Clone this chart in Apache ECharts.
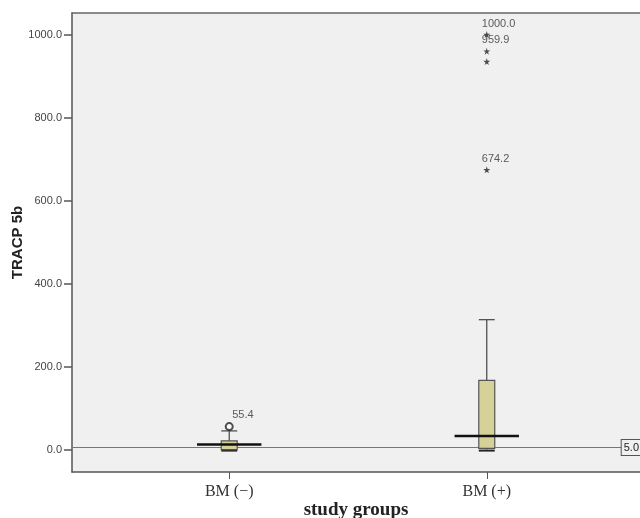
<!DOCTYPE html>
<html><head><meta charset="utf-8">
<script src="https://cdn.jsdelivr.net/npm/echarts@6/dist/echarts.min.js"></script>
<style>html,body{margin:0;padding:0;background:#fff}#c{width:640px;height:518px}</style>
</head><body><div id="c"></div>
<script>
// ---- data ----
var categories = ['BM (\u2212)', 'BM (+)'];
var positions = [1, 2];
var whiskerLow = [0, 0];
var q1 = [0, 3];
var median = [12, 33];
var q3 = [21, 167];
var whiskerHigh = [45, 313];
// outliers (circle = mild, star = extreme)
var circleOutliers = [[1, 55.4, '55.4']];
var starOutliers = [[2, 1000.0, '1000.0'], [2, 959.9, '959.9'], [2, 935, ''], [2, 674.2, '674.2']];
var yTicks = [0, 200, 400, 600, 800, 1000];
var refLineValue = 5.0;
var refLineLabel = '5.0';

var boxData = positions.map(function (p, i) {
  return [p, whiskerLow[i], q1[i], median[i], q3[i], whiskerHigh[i]];
});

var chart = echarts.init(document.getElementById('c'));
var starPath = 'path://M50,0 L61,35 L98,35 L68,57 L79,91 L50,70 L21,91 L32,57 L2,35 L39,35 Z';
var xMin = 0.3895, xMax = 2.595;

chart.setOption({
  animation: false,
  grid: { left: 72, top: 13, right: 0, height: 459, show: true, backgroundColor: '#f0f0f0', borderWidth: 0,
          containLabel: false, outerBoundsMode: 'none' },
  xAxis: [{
    type: 'value', min: xMin, max: xMax,
    splitLine: { show: false },
    axisLine: { show: true, onZero: false, lineStyle: { color: '#555', width: 1.5 } },
    axisTick: { show: true, customValues: positions, length: 7, lineStyle: { color: '#555' } },
    axisLabel: { customValues: positions, margin: 12,
      formatter: function (v) { var i = positions.indexOf(v); return i >= 0 ? categories[i] : ''; },
      fontFamily: 'Liberation Serif', fontSize: 16, color: '#333' },
    name: 'study groups', nameLocation: 'middle', nameGap: 29, nameMoveOverlap: false,
    nameTextStyle: { fontFamily: 'Liberation Serif', fontWeight: 'bold', fontSize: 19, color: '#222' }
  }, {
    type: 'value', position: 'top', min: xMin, max: xMax,
    splitLine: { show: false }, axisTick: { show: false }, axisLabel: { show: false },
    axisLine: { show: true, onZero: false, lineStyle: { color: '#666', width: 1.5 } }
  }],
  yAxis: {
    type: 'value', min: -54, max: 1052,
    splitLine: { show: false },
    axisLine: { show: true, lineStyle: { color: '#555', width: 1.5 } },
    axisTick: { show: true, customValues: yTicks, length: 8, lineStyle: { color: '#555', width: 1.5 } },
    axisLabel: { customValues: yTicks, margin: 10, formatter: function (v) { return v.toFixed(1); },
      fontFamily: 'Liberation Sans', fontSize: 11, color: '#444' },
    name: 'TRACP 5b', nameLocation: 'middle', nameGap: 47, nameMoveOverlap: false,
    nameTextStyle: { fontFamily: 'Liberation Sans', fontWeight: 'bold', fontSize: 15, color: '#222' }
  },
  series: [
    {
      type: 'custom',
      data: boxData,
      encode: { x: 0, y: [1, 2, 3, 4, 5] },
      z: 3,
      renderItem: function (params, api) {
        var x = api.value(0);
        var lo = api.coord([x, api.value(1)]);
        var b1 = api.coord([x, api.value(2)]);
        var md = api.coord([x, api.value(3)]);
        var b3 = api.coord([x, api.value(4)]);
        var hi = api.coord([x, api.value(5)]);
        var halfBox = api.size([0.031, 0])[0];
        var halfMed = api.size([0.125, 0])[0];
        var cx = lo[0];
        return { type: 'group', children: [
          { type: 'line', shape: { x1: cx, y1: b3[1], x2: cx, y2: hi[1] }, style: { stroke: '#444', lineWidth: 1.2 } },
          { type: 'line', shape: { x1: cx - halfBox, y1: hi[1], x2: cx + halfBox, y2: hi[1] }, style: { stroke: '#444', lineWidth: 1.2 } },
          { type: 'line', shape: { x1: cx, y1: lo[1], x2: cx, y2: b1[1] }, style: { stroke: '#444', lineWidth: 1.2 } },
          { type: 'line', shape: { x1: cx - halfBox, y1: lo[1] + 1, x2: cx + halfBox, y2: lo[1] + 1 }, style: { stroke: '#222', lineWidth: 2 } },
          { type: 'rect', shape: { x: cx - halfBox, y: b3[1], width: 2 * halfBox, height: Math.max(b1[1] - b3[1], 3) },
            style: { fill: '#d6d199', stroke: '#555', lineWidth: 1.2 } },
          { type: 'line', shape: { x1: cx - halfMed, y1: md[1], x2: cx + halfMed, y2: md[1] }, style: { stroke: '#111', lineWidth: 2.5 } }
        ]};
      }
    },
    {
      type: 'scatter', data: circleOutliers, symbol: 'emptyCircle', symbolSize: 7, z: 4,
      itemStyle: { color: '#222', borderColor: '#222', borderWidth: 1.2 },
      label: { show: true, position: 'top', align: 'left', offset: [3, 0], distance: 2,
        formatter: function (p) { return p.data[2]; }, fontFamily: 'Liberation Sans', fontSize: 11, color: '#333' }
    },
    {
      type: 'scatter', data: starOutliers, symbol: starPath, symbolSize: 7, z: 4,
      itemStyle: { color: '#222' },
      label: { show: true, position: 'top', align: 'left', offset: [-5, 0], distance: 2,
        formatter: function (p) { return p.data[2]; }, fontFamily: 'Liberation Sans', fontSize: 11, color: '#333' },
      markLine: {
        silent: true, symbol: 'none', z: 2,
        lineStyle: { color: '#777', width: 1.2, type: 'solid' },
        label: { show: true, position: 'end', distance: 0, formatter: refLineLabel,
          fontFamily: 'Liberation Sans', fontSize: 11, color: '#222',
          backgroundColor: '#f0f0f0', borderColor: '#555', borderWidth: 1, padding: [2, 2] },
        data: [[{ coord: [xMin, refLineValue] }, { coord: [2.524, refLineValue] }]]
      }
    }
  ]
});
</script></body></html>
